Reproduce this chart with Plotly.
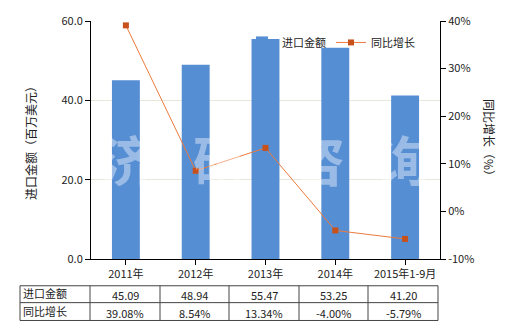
import plotly.graph_objects as go

categories = ["2011年", "2012年", "2013年", "2014年", "2015年1-9月"]
import_values = [45.09, 48.94, 55.47, 53.25, 41.20]
growth_values = [39.08, 8.54, 13.34, -4.00, -5.79]
import_labels = ["45.09", "48.94", "55.47", "53.25", "41.20"]
growth_labels = ["39.08%", "8.54%", "13.34%", "-4.00%", "-5.79%"]
left_ticks = [0, 20, 40, 60]
right_ticks = [-10, 0, 10, 20, 30, 40]
watermark_chars = ["济", "研", "咨", "询"]

W, H = 520, 330
L, R, T, B = 91, 80, 19, 71
PW, PH = W - L - R, H - T - B

def px(x):
    return (x - L) / PW

def py(y):
    return (H - B - y) / PH

font = "Noto Sans CJK SC"
fig = go.Figure()
fig.add_trace(go.Bar(x=categories, y=import_values, name="进口金额",
                     marker=dict(color="#568ED4", line=dict(width=0)), width=0.4))
fig.add_trace(go.Scatter(x=categories, y=growth_values, name="同比增长", yaxis="y2",
                         mode="lines+markers",
                         line=dict(color="#EC7A3C", width=1),
                         marker=dict(symbol="square", size=6, color="#C8501A")))

shapes = []
annotations = []
# watermark
for ch, cx in zip(watermark_chars, [128, 220, 318, 403]):
    annotations.append(dict(text="<b>" + ch + "</b>", x=px(cx), y=py(158), xref="paper", yref="paper",
                            xanchor="center", yanchor="middle", showarrow=False,
                            font=dict(size=54, color="rgba(255,255,255,0.4)", family=font)))
# table
cols = [20, 90, 160, 229, 299, 368, 438]
rows = [286, 303, 321]
for c in cols:
    shapes.append(dict(type="line", xref="paper", yref="paper", x0=px(c), x1=px(c),
                       y0=py(rows[0]), y1=py(rows[-1]), line=dict(color="#444", width=1)))
for r in rows:
    shapes.append(dict(type="line", xref="paper", yref="paper", x0=px(cols[0]), x1=px(cols[-1]),
                       y0=py(r), y1=py(r), line=dict(color="#444", width=1)))
row_names = ["进口金额", "同比增长"]
row_data = [import_labels, growth_labels]
for ri in range(2):
    yc = (rows[ri] + rows[ri + 1]) / 2
    annotations.append(dict(text=row_names[ri], x=px(cols[0] + 1), y=py(yc - 1), xref="paper", yref="paper",
                            xanchor="left", yanchor="middle", showarrow=False,
                            font=dict(size=11, color="#222", family=font)))
    for ci, v in enumerate(row_data[ri]):
        xc = (cols[ci + 1] + cols[ci + 2]) / 2
        annotations.append(dict(text=v, x=px(xc), y=py(yc + 1), xref="paper", yref="paper",
                                xanchor="center", yanchor="middle",
                                showarrow=False, font=dict(size=11, color="#222", family=font)))
# right axis title (reads top to bottom as in the reference)
annotations.append(dict(text="同比增长（%）", x=px(490), y=0.5, xref="paper", yref="paper",
                        xanchor="center", yanchor="middle",
                        textangle=90, showarrow=False, font=dict(size=12, color="#222", family=font)))

fig.update_layout(
    width=W, height=H, margin=dict(l=L, r=R, t=T, b=B),
    plot_bgcolor="white", paper_bgcolor="white",
    font=dict(family=font, size=11, color="#222"),
    showlegend=True,
    legend=dict(orientation="h", x=px(242), y=py(26), xanchor="left", yanchor="top",
                bgcolor="rgba(0,0,0,0)", font=dict(size=11, family=font), itemwidth=30,
                traceorder="normal", tracegroupgap=0),
    xaxis=dict(showline=True, linecolor="black", ticks="outside", ticklen=5, tickcolor="black",
               tickfont=dict(size=11)),
    yaxis=dict(range=[0, 60], tickvals=left_ticks, ticktext=[f"{v:.1f}" for v in left_ticks],
               title=dict(text="进口金额（百万美元）", font=dict(size=12, color="#222", family=font), standoff=22),
               showline=True, linecolor="black", ticks="outside", ticklen=5, tickcolor="black",
               showgrid=True, gridcolor="#E8E8DA", zeroline=False),
    yaxis2=dict(range=[-10, 40], tickvals=right_ticks, ticktext=[f"{v}%" for v in right_ticks],
                overlaying="y", side="right", showline=True, linecolor="black", ticks="outside",
                ticklen=5, tickcolor="black", showgrid=False, zeroline=False),
    bargap=0.6,
    shapes=shapes, annotations=annotations,
)
fig.write_html("out.html")
